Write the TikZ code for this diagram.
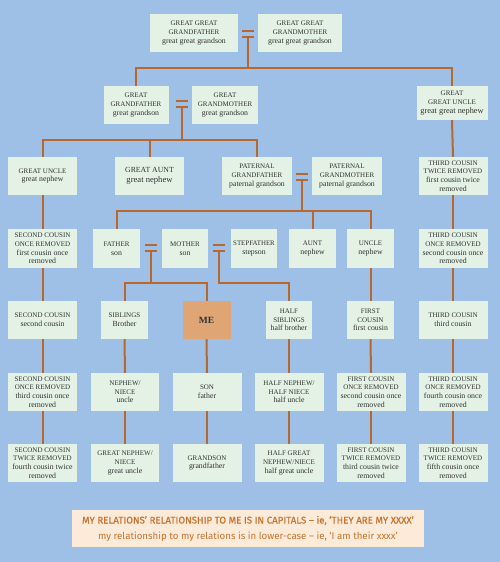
\documentclass[tikz,border=0pt]{standalone}
\usepackage{fontspec}
\setmainfont{Liberation Serif}
\newfontfamily\bannerfont{Fira Sans}
\definecolor{bgblue}{RGB}{158,192,230}
\definecolor{boxfill}{RGB}{228,241,229}
\definecolor{linecol}{RGB}{184,104,44}
\definecolor{mefill}{RGB}{224,165,116}
\definecolor{boxtext}{RGB}{50,50,50}
\definecolor{bannerfill}{RGB}{253,235,218}
\definecolor{bannertext}{RGB}{200,115,46}
\newcommand\capl[1]{{\fontsize{7}{8.6}\selectfont #1}}
\tikzset{
  rel/.style={fill=boxfill, text=boxtext, align=center, inner sep=0pt,
    minimum height=38pt, font=\fontsize{7.8}{8.6}\selectfont},
  link/.style={draw=linecol, line width=2pt},
  eqsign/.style={inner sep=0pt, minimum width=12pt, minimum height=8.5pt,
    path picture={
      \fill[linecol] (path picture bounding box.north west) rectangle ([yshift=-2.6pt]path picture bounding box.north east);
      \fill[linecol] ([yshift=2.6pt]path picture bounding box.south west) rectangle (path picture bounding box.south east);}},
}
\begin{document}
\begin{tikzpicture}[x=1pt,y=-1pt]
\fill[bgblue] (0,0) rectangle (500,562);
\useasboundingbox (0,0) rectangle (500,562);

% row 0
\node[rel, minimum width=88pt] (ggf) at (194,33) {\capl{GREAT GREAT}\\\capl{GRANDFATHER}\\great great grandson};
\node[rel, minimum width=84pt] (ggm) at (300,33) {\capl{GREAT GREAT}\\\capl{GRANDMOTHER}\\great great grandson};
\node[eqsign] (eq0) at (248,34) {};

% row 1
\node[rel, minimum width=65pt] (gf) at (136,105) {\capl{GREAT}\\\capl{GRANDFATHER}\\great grandson};
\node[rel, minimum width=66pt] (gm) at (225,105) {\capl{GREAT}\\\capl{GRANDMOTHER}\\great grandson};
\node[eqsign] (eq1) at (182,104) {};
\node[rel, minimum width=71pt, minimum height=34pt, font=\fontsize{8.3}{9}\selectfont] (ggu) at (452,103) {\capl{GREAT}\\\capl{GREAT UNCLE}\\great great nephew};

% row 2
\node[rel, minimum width=69pt] (gu) at (42.5,176) {\capl{GREAT UNCLE}\\great nephew};
\node[rel, minimum width=69pt, font=\fontsize{8.6}{10}\selectfont] (ga) at (149.5,176) {{\fontsize{7.8}{10}\selectfont GREAT AUNT}\\great nephew};
\node[rel, minimum width=70pt] (pgf) at (257,176) {\capl{PATERNAL}\\\capl{GRANDFATHER}\\paternal grandson};
\node[rel, minimum width=70pt] (pgm) at (347,176) {\capl{PATERNAL}\\\capl{GRANDMOTHER}\\paternal grandson};
\node[eqsign] (eq2) at (302,177) {};
\node[rel, minimum width=69pt] (tcA) at (453,176) {\capl{THIRD COUSIN}\\\capl{TWICE REMOVED}\\first cousin twice\\removed};

% row 3
\node[rel, minimum width=69pt, minimum height=39pt] (scA) at (42.5,248.5) {\capl{SECOND COUSIN}\\\capl{ONCE REMOVED}\\first cousin once\\removed};
\node[rel, minimum width=47pt, minimum height=39pt] (fa) at (116.5,248.5) {\capl{FATHER}\\son};
\node[rel, minimum width=46pt, minimum height=39pt] (mo) at (185,248.5) {\capl{MOTHER}\\son};
\node[eqsign] (eq3) at (151,248) {};
\node[rel, minimum width=46pt, minimum height=39pt] (stf) at (254,248.5) {{\fontsize{6.9}{8.6}\selectfont STEPFATHER}\\stepson};
\node[eqsign] (eq4) at (219,248) {};
\node[rel, minimum width=47pt, minimum height=39pt] (au) at (312.5,248.5) {\capl{AUNT}\\nephew};
\node[rel, minimum width=47pt, minimum height=39pt] (un) at (370.5,248.5) {\capl{UNCLE}\\nephew};
\node[rel, minimum width=69pt, minimum height=39pt] (tcB) at (453,248.5) {\capl{THIRD COUSIN}\\\capl{ONCE REMOVED}\\second cousin once\\removed};

% row 4
\node[rel, minimum width=69pt] (scB) at (42.5,320) {\capl{SECOND COUSIN}\\second cousin};
\node[rel, minimum width=47pt] (sib) at (124.5,320) {\capl{SIBLINGS}\\Brother};
\node[rel, minimum width=48pt, fill=mefill, font=\fontsize{9.5}{11}\selectfont\bfseries] (me) at (206.5,320) {ME};
\node[rel, minimum width=46pt] (hs) at (289,320) {\capl{HALF}\\\capl{SIBLINGS}\\half brother};
\node[rel, minimum width=47pt] (fc) at (370.5,320) {\capl{FIRST}\\\capl{COUSIN}\\first cousin};
\node[rel, minimum width=69pt] (tcC) at (453,320) {\capl{THIRD COUSIN}\\third cousin};

% row 5
\node[rel, minimum width=69pt] (scC) at (42.5,392) {\capl{SECOND COUSIN}\\\capl{ONCE REMOVED}\\third cousin once\\removed};
\node[rel, minimum width=68pt] (ne) at (125,392) {\capl{NEPHEW/}\\\capl{NIECE}\\uncle};
\node[rel, minimum width=69pt] (so) at (207,392) {\capl{SON}\\father};
\node[rel, minimum width=69pt] (hn) at (289,392) {\capl{HALF NEPHEW/}\\\capl{HALF NIECE}\\half uncle};
\node[rel, minimum width=69pt] (fcA) at (371,392) {\capl{FIRST COUSIN}\\\capl{ONCE REMOVED}\\second cousin once\\removed};
\node[rel, minimum width=69pt] (tcD) at (453,392) {\capl{THIRD COUSIN}\\\capl{ONCE REMOVED}\\fourth cousin once\\removed};

% row 6
\node[rel, minimum width=69pt] (scD) at (42.5,463) {\capl{SECOND COUSIN}\\\capl{TWICE REMOVED}\\fourth cousin twice\\removed};
\node[rel, minimum width=68pt] (gne) at (125,463) {\capl{GREAT NEPHEW/}\\\capl{NIECE}\\great uncle};
\node[rel, minimum width=69pt] (gs) at (207,463) {\capl{GRANDSON}\\grandfather};
\node[rel, minimum width=69pt] (hgn) at (289,463) {\capl{HALF GREAT}\\\capl{NEPHEW/NIECE}\\half great uncle};
\node[rel, minimum width=69pt] (fcB) at (371,463) {\capl{FIRST COUSIN}\\\capl{TWICE REMOVED}\\third cousin twice\\removed};
\node[rel, minimum width=69pt] (tcE) at (453,463) {\capl{THIRD COUSIN}\\\capl{TWICE REMOVED}\\fifth cousin once\\removed};

% banner
\node[fill=bannerfill, text=bannertext, align=center, inner sep=0pt, minimum width=352pt, minimum height=37pt,
  font=\bannerfont\fontsize{9.7}{15.5}\selectfont] (banner) at (248,528.5)
  {\addfontfeatures{FakeBold=0.5}MY RELATIONS’ RELATIONSHIP TO ME IS IN CAPITALS – ie, ‘THEY ARE MY XXXX’\\
   my relationship to my relations is in lower-case – ie, ‘I am their xxxx’};

% junctions
\coordinate (j0) at (248,68);
\coordinate (j1) at (182,140);
\coordinate (j2) at (302,211);
\coordinate (j3) at (151,283);
\coordinate (j4) at (219,283);

% connectors
\draw[link] (eq0.south) -- (j0);
\draw[link] (gf.north) -- (gf.north |- j0) -- (ggu.north |- j0) -- (ggu.north);

\draw[link] (eq1.south) -- (j1);
\draw[link] (gu.north) -- (gu.north |- j1) -- (pgf.north |- j1) -- (pgf.north);
\draw[link] (ga.north) -- (ga.north |- j1);

\draw[link] (eq2.south) -- (j2);
\draw[link] (fa.north) -- (fa.north |- j2) -- (un.north |- j2) -- (un.north);
\draw[link] (au.north) -- (au.north |- j2);

\draw[link] (eq3.south) -- (j3);
\draw[link] (sib.north) -- (sib.north |- j3) -- (me.north |- j3) -- (me.north);
\draw[link] (eq4.south) -- (j4) -- (hs.north |- j4) -- (hs.north);

% columns
\draw[link] (ggu.south) -- (tcA.north);
\draw[link] (tcA.south) -- (tcB.north);
\draw[link] (tcB.south) -- (tcC.north);
\draw[link] (tcC.south) -- (tcD.north);
\draw[link] (tcD.south) -- (tcE.north);

\draw[link] (gu.south) -- (scA.north);
\draw[link] (scA.south) -- (scB.north);
\draw[link] (scB.south) -- (scC.north);
\draw[link] (scC.south) -- (scD.north);

\draw[link] (sib.south) -- (ne.north);
\draw[link] (ne.south) -- (gne.north);
\draw[link] (me.south) -- (so.north);
\draw[link] (so.south) -- (gs.north);
\draw[link] (hs.south) -- (hn.north);
\draw[link] (hn.south) -- (hgn.north);
\draw[link] (un.south) -- (fc.north);
\draw[link] (fc.south) -- (fcA.north);
\draw[link] (fcA.south) -- (fcB.north);
\end{tikzpicture}
\end{document}
